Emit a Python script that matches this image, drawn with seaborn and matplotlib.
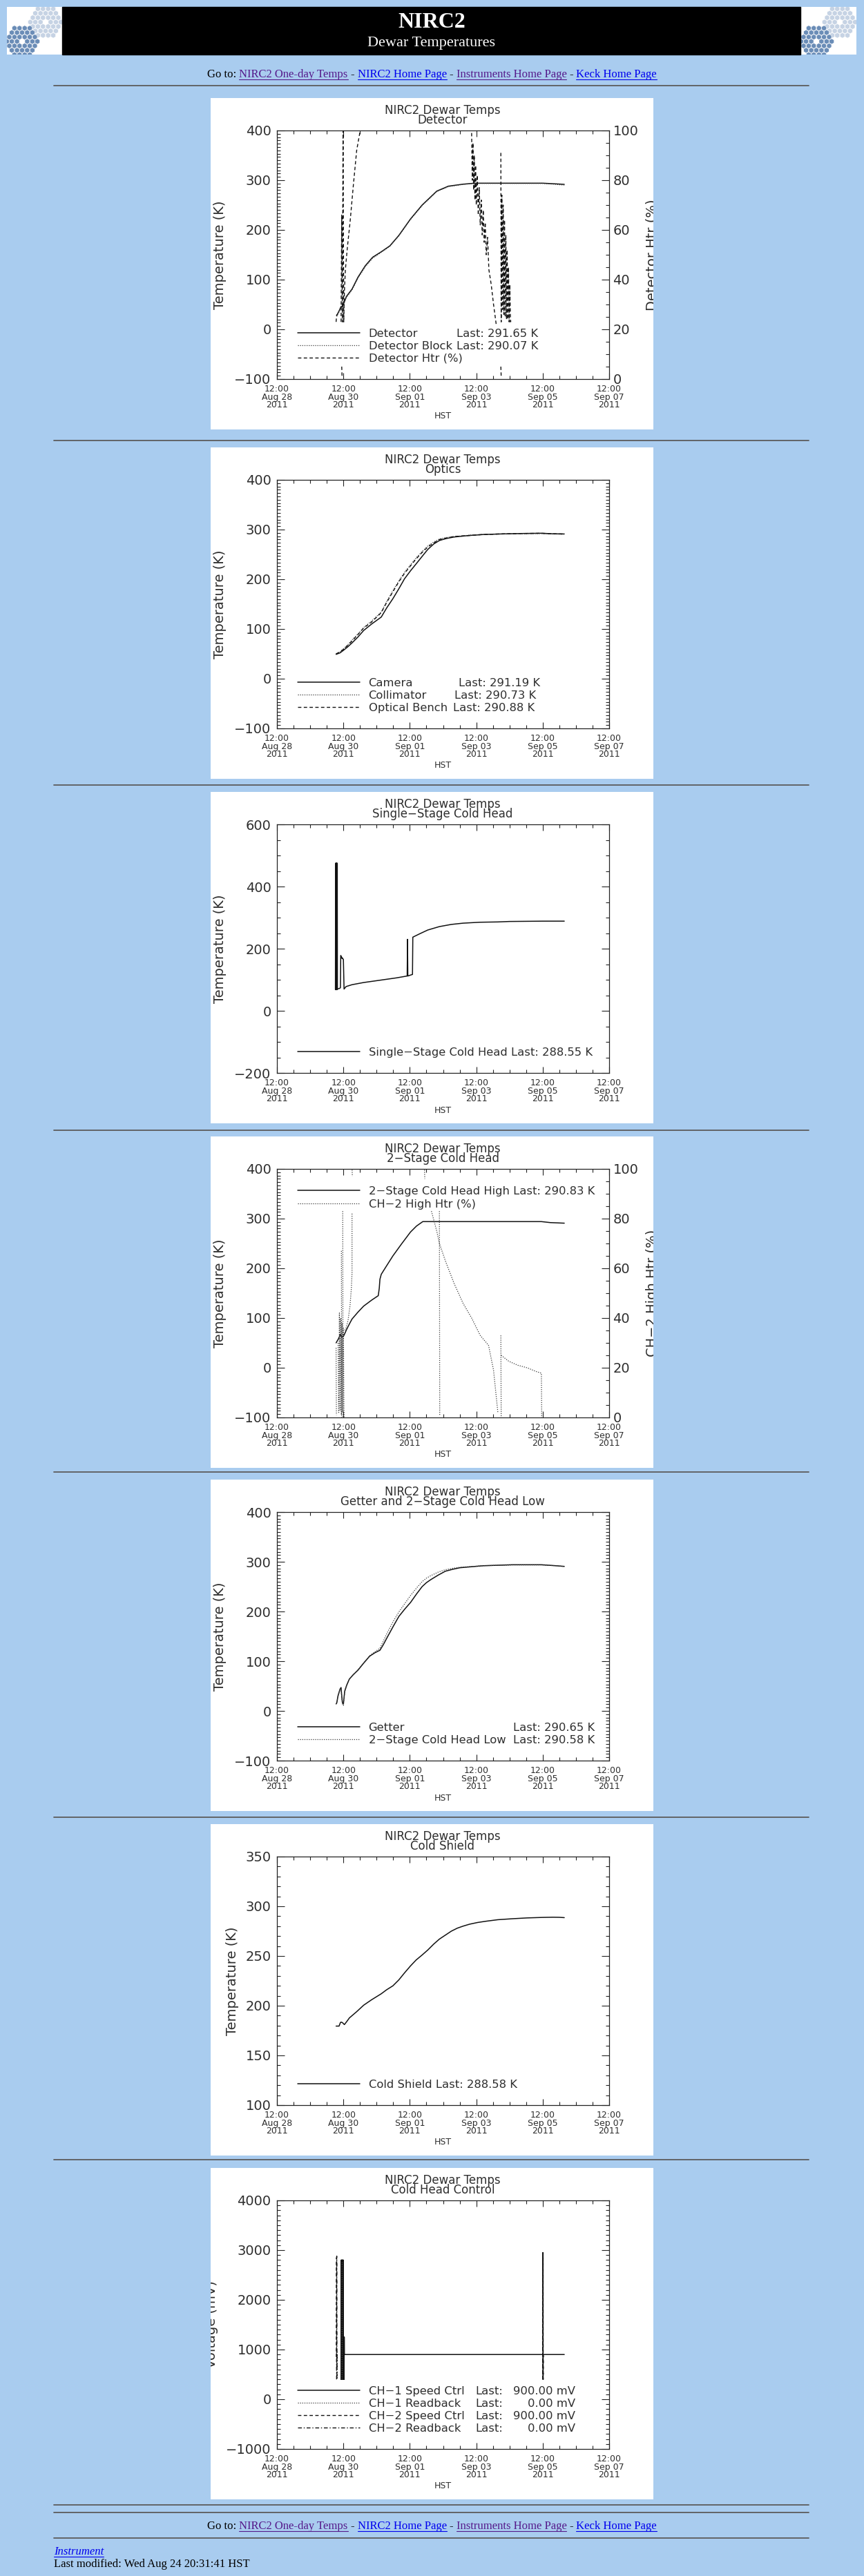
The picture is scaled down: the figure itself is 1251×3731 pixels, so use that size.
import numpy as np
import pandas as pd
import matplotlib
matplotlib.use("Agg")
import matplotlib.pyplot as plt
import matplotlib.transforms as mtransforms
from matplotlib.patches import Rectangle, RegularPolygon
from matplotlib.lines import Line2D
from matplotlib.ticker import MultipleLocator, AutoMinorLocator
import seaborn as sns

nan = np.nan

# x axis is days since 2011-08-28 12:00 HST
tick_days = [0, 2, 4, 6, 8, 10]
tick_labels = ["12:00\nAug 28\n2011", "12:00\nAug 30\n2011", "12:00\nSep 01\n2011",
               "12:00\nSep 03\n2011", "12:00\nSep 05\n2011", "12:00\nSep 07\n2011"]

# --- Detector
det_t = [1.80, 1.87, 1.93, 1.97, 2.00, 2.09, 2.26, 2.44, 2.66, 2.88, 3.14, 3.40,
         3.67, 4.02, 4.37, 4.81, 5.16, 5.60, 5.95, 6.50, 7.20, 8.00, 8.30, 8.65]
det_T = [28, 37, 46, 45, 51, 66, 81, 105, 128, 145, 156, 168,
         189, 222, 250, 278, 288, 292, 294, 294, 294, 294, 293, 291.65]
block_T = [26, 35, 44, 43, 49, 64, 79, 103, 126, 143, 155, 167,
           188, 221, 249, 277, 287, 291.5, 293.5, 293.5, 293.5, 293.5, 292, 290.07]
htr_t = [1.78, 1.80, nan,
         1.93, 1.95, 1.97, 1.99, 2.01, 2.03, 2.06, 2.12, 2.20, 2.30, 2.40, 2.52, nan,
         5.86, 5.88, 5.90, 5.92, 5.94, 5.96, 5.98, 6.00, 6.03, 6.06, 6.09, 6.12,
         6.15, 6.18, 6.21, 6.24, 6.27, 6.30, 6.34, 6.38, 6.45, 6.52, 6.60, nan,
         6.74, 6.75, 6.77, 6.79, 6.81, 6.83, 6.85, 6.87, 6.89, 6.91, 6.93, 6.95,
         6.97, 6.99, 7.01, 7.03, 7.06, nan,
         1.95, 1.96, nan, 6.74, 6.75]
htr_p = [23, 26, nan,
         23, 66, 23, 101, 23, 35, 44, 53, 63, 78, 92, 101, nan,
         99, 80, 95, 76, 90, 72, 86, 70, 82, 66, 77, 62,
         72, 58, 68, 55, 63, 50, 57, 44, 38, 30, 22, nan,
         91, 23, 74, 28, 70, 26, 64, 25, 58, 24, 52, 24,
         45, 23, 38, 23, 24, nan,
         5, 1, nan, 5, 1]

# --- Optics
opt_t = [1.78, 1.90, 2.00, 2.13, 2.26, 2.44, 2.61, 2.85, 3.14, 3.30, 3.49, 3.67, 3.84, 4.02,
         4.19, 4.37, 4.54, 4.72, 4.89, 5.10, 5.33, 5.77, 6.20, 6.65, 7.30, 7.96, 8.30, 8.65]
cam_T = [49, 52, 57, 64, 72, 84, 97, 110, 124, 142, 161, 181, 201, 217,
         231, 246, 260, 271, 278, 282, 285, 288, 290, 291, 292, 292.6, 291.5, 291.19]
coll_T = [50, 54, 60, 68, 78, 90, 103, 116, 134, 155, 177, 197, 214, 229,
          243, 256, 267, 275, 281, 284, 286, 288.5, 290, 291, 291.5, 292, 291, 290.73]
bench_T = [50, 54, 59, 67, 76, 89, 102, 114, 133, 153, 175, 195, 212, 227,
           241, 254, 265, 273, 280, 283, 286, 288, 290, 291, 292, 292.5, 291.5, 290.88]

# --- Single-stage cold head
ss_t = [1.76, 1.765, 1.77, 1.775, 1.78, 1.785, 1.79, 1.795, 1.80, 1.805, 1.81, 1.815, 1.82,
        1.88, 1.91, 1.92, 1.93, 1.95, 1.96, 1.97, 2.00, 2.02, 2.08,
        2.26, 2.61, 3.14, 3.60, 3.92, 3.93, 3.94, 4.05, 4.08, 4.09,
        4.30, 4.54, 4.89, 5.25, 5.60, 6.10, 6.65, 7.00, 7.50, 8.00, 8.65]
ss_T = [68, 475, 68, 475, 68, 475, 68, 475, 68, 475, 68, 475, 70,
        72, 74, 178, 176, 172, 168, 170, 165, 70, 78,
        84, 91, 99, 106, 112, 230, 112, 116, 117, 237,
        248, 260, 271, 278, 282, 285, 286, 287.5, 288, 288.5, 288.55]

# --- 2-stage cold head high
ch2h_t = [1.78, 1.85, 1.91, 1.96, 2.00, 2.05, 2.09, 2.18, 2.26, 2.44, 2.61, 2.85, 3.05, 3.08,
          3.10, 3.14, 3.30, 3.49, 3.75, 4.02, 4.20, 4.39, 5.00, 6.00, 7.00, 7.96, 8.23, 8.65]
ch2h_T = [50, 58, 67, 62, 63, 70, 76, 88, 98, 112, 124, 136, 145, 160,
          178, 188, 205, 225, 249, 273, 285, 294, 294, 294, 294, 294, 292, 290.83]
ch2htr_t = [1.78, 1.79, nan,
            1.84, 1.86, 1.88, 1.90, 1.92, 1.94, 1.96, 1.98, 2.00, 2.02, nan,
            1.94, 1.95, nan,
            1.98, 1.99, nan,
            2.26, 2.26, 2.24, 2.20, 2.14, 2.08, 2.04, nan,
            2.26, 2.27, nan,
            4.44, 4.45, nan,
            4.65, 4.81, 4.89, 5.07, 5.33, 5.60, 5.86, 6.12, 6.37, 6.52, 6.65, nan,
            4.89, 4.90, nan,
            6.74, 6.75, nan,
            6.75, 6.98, 7.25, 7.53, 7.80, 7.96, 7.97]
ch2htr_p = [28, 1, nan,
            30, 2, 42, 3, 40, 1, 38, 2, 36, 0, nan,
            67, 0, nan,
            83, 0, nan,
            82, 58, 52, 45, 39, 36, 35, nan,
            100.5, 97, nan,
            100.5, 96, nan,
            83, 75, 70, 63, 54, 46, 40, 33, 29, 19, 2, nan,
            83, 1, nan,
            33, 0, nan,
            25, 22.6, 21, 20, 18.5, 17.8, 0]

# --- Getter and 2-stage cold head low
get_t = [1.78, 1.80, 1.84, 1.90, 1.93, 1.95, 1.97, 2.00, 2.04, 2.10,
         2.18, 2.30, 2.44, 2.61, 2.79, 2.95, 3.10, 3.20, 3.32, 3.50,
         3.67, 3.85, 4.02, 4.20, 4.37, 4.50, 4.63, 4.85, 5.07, 5.30,
         5.51, 6.21, 7.09, 7.96, 8.40, 8.65]
get_T = [14, 16, 31, 44, 47, 30, 17, 14, 40, 52,
         64, 73, 82, 96, 110, 117, 122, 133, 148, 170,
         190, 205, 218, 235, 250, 258, 264, 273, 281, 285,
         288, 292, 294, 294, 292, 290.65]
ch2l_T = [14, 16, 30, 43, 46, 28, 14, 11, 38, 51,
          64, 73, 83, 97, 111, 119, 126, 140, 157, 180,
          199, 216, 232, 247, 260, 267, 272, 279, 284, 287,
          289, 292, 293.5, 293.5, 292, 290.58]

# --- Cold shield
cs_t = [1.78, 1.87, 1.91, 1.93, 1.97, 2.03, 2.10, 2.18, 2.40, 2.61, 2.85, 3.14,
        3.30, 3.49, 3.67, 3.84, 4.02, 4.19, 4.37, 4.54, 4.72, 4.89, 5.07, 5.25,
        5.43, 5.60, 5.80, 6.04, 6.30, 6.65, 7.10, 7.53, 8.00, 8.31, 8.50, 8.65]
cs_T = [179.5, 179.5, 183, 183.5, 183, 181, 184, 187.7, 194, 200.5, 206, 212,
        216, 220, 226, 233, 240, 246, 251, 256, 262, 267, 271, 275,
        278, 280, 282, 283.7, 285, 286.5, 287.5, 288.3, 288.8, 289, 288.9, 288.58]

# --- Cold head control (mV)
ch1spd_t = [1.93, 1.935, 1.94, 1.945, 1.95, 1.955, 1.96, 1.965, 1.97, 1.975, 1.98,
            1.985, 1.99, 1.995, 2.00, 2.005, 2.01, 2.015, 2.02, 2.025, 2.03, 8.65]
ch1spd_v = [400, 2800, 400, 2800, 400, 2800, 400, 2800, 400, 2800, 400,
            2800, 400, 2800, 400, 1250, 400, 1250, 400, 1250, 900, 900]
ch1rb_t = [1.95, 1.96, 1.97]
ch1rb_v = [400, 2750, 400]
ch2spd_t = [1.79, 1.795, 1.80, nan, 8.00, 8.004, 8.008, 8.012, 8.016, 8.02]
ch2spd_v = [850, 2850, 600, nan, 400, 2950, 400, 2950, 400, 900]
ch2rb_t = [1.795, 1.80, 1.805, 1.81]
ch2rb_v = [400, 2880, 400, 950]

# ------------------------------------------------------------------
sns.set_style("ticks")
plt.rcParams["font.family"] = ["DejaVu Sans"]

W, H = 1251, 3731
BG = "#A9CCEF"
TXT = "#2e2e2e"
SERIF = "Liberation Serif"
LINK, VISITED = "#0000EE", "#551A8B"

fig = plt.figure(figsize=(W / 100, H / 100), dpi=100, facecolor=BG)
px = mtransforms.Affine2D().scale(1 / W, -1 / H).translate(0, 1) + fig.transFigure

STYLES = {
    "solid": dict(color="#111111", lw=1.1, ls="-"),
    "dot": dict(color="#3a3a3a", lw=0.9, ls=(0, (1, 1.5))),
    "dash": dict(color="#111111", lw=1.0, ls=(0, (3.5, 2.5))),
    "dashdot": dict(color="#111111", lw=1.0, ls=(0, (4, 2, 1, 2))),
}


def hr(y):
    fig.add_artist(Line2D([78, 1171], [y, y], transform=px, color="#5c5c5c", lw=1.3))


def text_width(s, **kw):
    r = fig.canvas.get_renderer()
    t = fig.text(0, 0, s, **kw)
    w = t.get_window_extent(r).width
    t.remove()
    return w


def goto_line(yb):
    pieces = [("Go to:", "black", False), (" ", None, False),
              ("NIRC2 One-day Temps", VISITED, True), (" - ", "black", False),
              ("NIRC2 Home Page", LINK, True), (" - ", "black", False),
              ("Instruments Home Page", VISITED, True), (" - ", "black", False),
              ("Keck Home Page", LINK, True)]
    kw = dict(fontsize=12, family=SERIF)
    full = "".join(p[0] for p in pieces)
    x0 = W / 2 - text_width(full, **kw) / 2
    xw = text_width("x", **kw)
    prefix = ""
    for s, c, link in pieces:
        lead = len(s) - len(s.lstrip())
        body = s.strip()
        if body:
            xs = x0 + text_width(prefix + s[:lead] + "x", **kw) - xw
            fig.text(xs, yb, body, transform=px, color=c, va="baseline", **kw)
            if link:
                fig.add_artist(Line2D([xs, xs + text_width(body, **kw)], [yb + 2.5] * 2,
                                      transform=px, color=c, lw=0.8))
        prefix += s


def logo(x0):
    lax = fig.add_axes([x0 / W, 1 - 79 / H, 80 / W, 69 / H])
    lax.set_xlim(0, 80)
    lax.set_ylim(69, 0)
    lax.axis("off")
    lax.add_patch(Rectangle((0, 0), 80, 69, color="white"))
    for cx, cy, col in [(56, 22, "#C6D3E4"), (22, 50, "#6B8DB7")]:
        for q in range(-3, 4):
            for r in range(-3, 4):
                if abs(q + r) > 3 or (q == 0 and r == 0):
                    continue
                lax.add_patch(RegularPolygon((cx + 7.4 * (q + r / 2), cy + 6.4 * r), 6,
                                             radius=4.0, color=col, ec="white", lw=0.4))


def draw(ax, t, v, style):
    df = pd.DataFrame({"t": t, "v": v})
    df["seg"] = df["v"].isna().cumsum()
    df = df.dropna()
    sns.lineplot(data=df, x="t", y="v", units="seg", estimator=None, sort=False,
                 ax=ax, legend=False, **STYLES[style])
    ax.set_xlabel("")
    ax.set_ylabel("")


def legend_row(ax, y, style, name, last=None, last_x=None, value=None, value_x=None):
    yy = 1 - y / 360
    ax.add_line(Line2D([30 / 481, 120 / 481], [yy, yy], transform=ax.transAxes, **STYLES[style]))
    kw = dict(transform=ax.transAxes, va="center_baseline", fontsize=11.8, color=TXT)
    ax.text(132.6 / 481, yy, name, ha="left", **kw)
    if last:
        ax.text(last_x / 481, yy, last, ha="left", **kw)
    if value:
        ax.text(value_x / 481, yy, value, ha="right", **kw)


def make_panel(top, subtitle, ylim, ymajor, yminor, ylabel, ylabel_x,
               twin_label=None):
    panel = Rectangle((305, top), 641, 480, transform=px, facecolor="white",
                      edgecolor="none", zorder=-5)
    fig.add_artist(panel)
    ax = fig.add_axes([401 / W, 1 - (top + 407) / H, 481 / W, 360 / H])
    ax.set_facecolor("white")
    for sp in ax.spines.values():
        sp.set_color("#222222")
        sp.set_linewidth(0.9)
        sp.set_visible(True)
    ax.set_xlim(0, 10)
    ax.set_ylim(*ylim)
    ax.set_xticks(tick_days)
    ax.set_xticklabels(tick_labels, linespacing=0.85)
    ax.xaxis.set_minor_locator(MultipleLocator(0.5))
    ax.yaxis.set_major_locator(MultipleLocator(ymajor))
    ax.yaxis.set_minor_locator(AutoMinorLocator(yminor))
    ax.tick_params(which="both", direction="in", top=True, right=True,
                   colors="#222222", labelcolor=TXT, width=0.8)
    ax.tick_params(axis="y", which="major", length=8, labelsize=14, pad=6)
    ax.tick_params(axis="y", which="minor", length=3.5)
    ax.tick_params(axis="x", which="major", length=6.5, labelsize=9, pad=6)
    ax.tick_params(axis="x", which="minor", length=3.5)
    kw = dict(transform=px, ha="center", va="center", color=TXT)
    fig.text(641, top + 18, "NIRC2 Dewar Temps", fontsize=12, **kw)
    fig.text(641, top + 32, subtitle, fontsize=12, **kw)
    fig.text(641, top + 461, "HST", fontsize=9, **kw)
    yl = fig.text(ylabel_x, top + 227, ylabel, rotation=90, fontsize=14, **kw)
    yl.set_clip_path(panel)
    ax2 = None
    if twin_label:
        ax2 = ax.twinx()
        ax2.set_ylim(0, 100)
        ax2.yaxis.set_major_locator(MultipleLocator(20))
        ax2.yaxis.set_minor_locator(AutoMinorLocator(4))
        ax2.tick_params(which="both", direction="in", right=True, left=False,
                        colors="#222222", labelcolor=TXT, width=0.8)
        ax2.tick_params(which="major", length=8, labelsize=14, pad=4)
        ax2.tick_params(which="minor", length=3.5)
        for sp in ax2.spines.values():
            sp.set_visible(False)
        ax.tick_params(which="both", right=False)
        rl = fig.text(944, top + 227, twin_label, rotation=90, fontsize=14, **kw)
        rl.set_clip_path(panel)
    return ax, ax2


# ---------------- header
fig.add_artist(Rectangle((90, 10), 1069, 69, transform=px, color="black"))
logo(10)
logo(1160)
fig.text(625, 32, "NIRC2", transform=px, ha="center", va="center", color="white",
         fontsize=23, family=SERIF, fontweight="bold")
fig.text(625, 63, "Dewar Temperatures", transform=px, ha="center", va="center",
         color="white", fontsize=16, family=SERIF)
goto_line(112)
for y in [124, 638, 1137, 1637, 2132, 2632, 3128, 3628, 3639, 3676]:
    hr(y)

tops = [142, 648, 1147, 1646, 2143, 2642, 3140]

# 1 Detector
ax, ax2 = make_panel(tops[0], "Detector", (-100, 400), 100, 15, "Temperature (K)", 318,
                     twin_label="Detector Htr (%)")
draw(ax, det_t, det_T, "solid")
draw(ax, det_t, block_T, "dot")
draw(ax2, htr_t, htr_p, "dash")
ax.set_xlim(0, 10); ax.set_ylim(-100, 400); ax2.set_ylim(0, 100)
legend_row(ax, 293, "solid", "Detector", "Last: 291.65 K", 260)
legend_row(ax, 311, "dot", "Detector Block", "Last: 290.07 K", 260)
legend_row(ax, 329, "dash", "Detector Htr (%)")

# 2 Optics
ax, _ = make_panel(tops[1], "Optics", (-100, 400), 100, 15, "Temperature (K)", 318)
draw(ax, opt_t, cam_T, "solid")
draw(ax, opt_t, coll_T, "dot")
draw(ax, opt_t, bench_T, "dash")
ax.set_xlim(0, 10); ax.set_ylim(-100, 400)
legend_row(ax, 293, "solid", "Camera", "Last: 291.19 K", 263)
legend_row(ax, 311, "dot", "Collimator", "Last: 290.73 K", 257)
legend_row(ax, 329, "dash", "Optical Bench", "Last: 290.88 K", 255)

# 3 Single-stage cold head
ax, _ = make_panel(tops[2], "Single\u2212Stage Cold Head", (-200, 600), 200, 4,
                   "Temperature (K)", 318)
draw(ax, ss_t, ss_T, "solid")
ax.set_xlim(0, 10); ax.set_ylim(-200, 600)
legend_row(ax, 329, "solid", "Single\u2212Stage Cold Head Last: 288.55 K")

# 4 2-stage cold head
ax, ax2 = make_panel(tops[3], "2\u2212Stage Cold Head", (-100, 400), 100, 15,
                     "Temperature (K)", 318, twin_label="CH\u22122 High Htr (%)")
draw(ax, ch2h_t, ch2h_T, "solid")
draw(ax2, ch2htr_t, ch2htr_p, "dot")
ax.set_xlim(0, 10); ax.set_ylim(-100, 400); ax2.set_ylim(0, 100)
legend_row(ax, 31, "solid", "2\u2212Stage Cold Head High Last: 290.83 K")
legend_row(ax, 50, "dot", "CH\u22122 High Htr (%)")

# 5 Getter
ax, _ = make_panel(tops[4], "Getter and 2\u2212Stage Cold Head Low", (-100, 400), 100, 15,
                   "Temperature (K)", 318)
draw(ax, get_t, get_T, "solid")
draw(ax, get_t, ch2l_T, "dot")
ax.set_xlim(0, 10); ax.set_ylim(-100, 400)
legend_row(ax, 311, "solid", "Getter", "Last: 290.65 K", 342)
legend_row(ax, 329, "dot", "2\u2212Stage Cold Head Low", "Last: 290.58 K", 342)

# 6 Cold shield
ax, _ = make_panel(tops[5], "Cold Shield", (100, 350), 50, 5, "Temperature (K)", 336)
draw(ax, cs_t, cs_T, "solid")
ax.set_xlim(0, 10); ax.set_ylim(100, 350)
legend_row(ax, 329, "solid", "Cold Shield Last: 288.58 K")

# 7 Cold head control
ax, _ = make_panel(tops[6], "Cold Head Control", (-1000, 4000), 1000, 10, "Voltage (mV)", 306)
draw(ax, ch1spd_t, ch1spd_v, "solid")
draw(ax, ch1rb_t, ch1rb_v, "dot")
draw(ax, ch2spd_t, ch2spd_v, "dash")
draw(ax, ch2rb_t, ch2rb_v, "dashdot")
ax.set_xlim(0, 10); ax.set_ylim(-1000, 4000)
legend_row(ax, 275, "solid", "CH\u22121 Speed Ctrl", "Last:", 287, "900.00 mV", 432)
legend_row(ax, 293, "dot", "CH\u22121 Readback", "Last:", 287, "0.00 mV", 432)
legend_row(ax, 311, "dash", "CH\u22122 Speed Ctrl", "Last:", 287, "900.00 mV", 432)
legend_row(ax, 329, "dashdot", "CH\u22122 Readback", "Last:", 287, "0.00 mV", 432)

# ---------------- footer
goto_line(3663)
fig.text(78, 3700, "Instrument", transform=px, color=LINK, fontsize=12, family=SERIF,
         style="italic", va="baseline")
fig.add_artist(Line2D([78, 78 + text_width("Instrument", fontsize=12, family=SERIF, style="italic")],
                      [3702.5] * 2, transform=px, color=LINK, lw=0.8))
fig.text(78, 3718, "Last modified: Wed Aug 24 20:31:41 HST", transform=px, color="black",
         fontsize=12, family=SERIF, va="baseline")

fig.savefig("out.png", dpi=100, facecolor=BG)
